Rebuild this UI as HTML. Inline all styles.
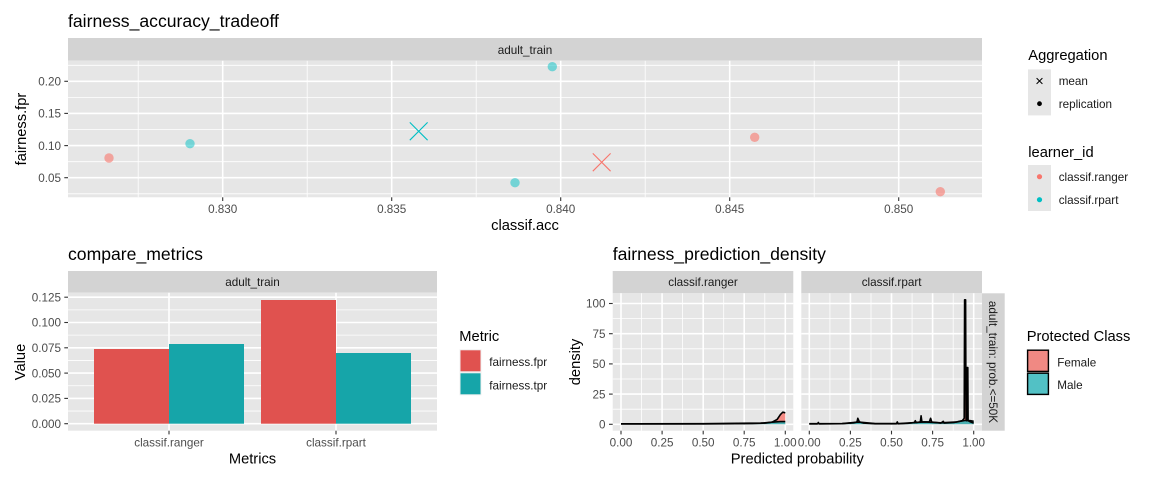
<!DOCTYPE html>
<html><head><meta charset="utf-8"><style>
html,body{margin:0;padding:0;background:#fff;}
svg{display:block;font-family:"Liberation Sans",Arial,sans-serif;}
</style></head><body>
<svg width="1152" height="480" viewBox="0 0 1152 480" xmlns="http://www.w3.org/2000/svg">
<rect width="1152" height="480" fill="#fff"/>

<!-- ============ TOP: fairness_accuracy_tradeoff ============ -->
<text x="68" y="27" font-size="17.6" fill="#000">fairness_accuracy_tradeoff</text>
<rect x="68" y="38" width="914" height="22.7" fill="#D3D3D3"/>
<text x="525" y="54.2" font-size="11.7" fill="#1A1A1A" text-anchor="middle">adult_train</text>
<rect x="68" y="60.7" width="914" height="136.6" fill="#E6E6E6"/>
<g stroke="#fff" stroke-width="0.8">
<line x1="68" x2="982" y1="65.3" y2="65.3"/><line x1="68" x2="982" y1="97.4" y2="97.4"/><line x1="68" x2="982" y1="129.5" y2="129.5"/><line x1="68" x2="982" y1="161.7" y2="161.7"/><line x1="68" x2="982" y1="193.8" y2="193.8"/>
<line y1="60.7" y2="197.3" x1="138.2" x2="138.2"/><line y1="60.7" y2="197.3" x1="307.2" x2="307.2"/><line y1="60.7" y2="197.3" x1="476.2" x2="476.2"/><line y1="60.7" y2="197.3" x1="645.2" x2="645.2"/><line y1="60.7" y2="197.3" x1="814.2" x2="814.2"/>
</g>
<g stroke="#fff" stroke-width="1.6">
<line x1="68" x2="982" y1="81.3" y2="81.3"/><line x1="68" x2="982" y1="113.4" y2="113.4"/><line x1="68" x2="982" y1="145.6" y2="145.6"/><line x1="68" x2="982" y1="177.7" y2="177.7"/>
<line y1="60.7" y2="197.3" x1="222.7" x2="222.7"/><line y1="60.7" y2="197.3" x1="391.7" x2="391.7"/><line y1="60.7" y2="197.3" x1="560.7" x2="560.7"/><line y1="60.7" y2="197.3" x1="729.7" x2="729.7"/><line y1="60.7" y2="197.3" x1="898.7" x2="898.7"/>
</g>
<!-- points -->
<g stroke="none">
<circle cx="109" cy="158" r="4.7" fill="#F8766D" fill-opacity="0.6"/>
<circle cx="754.7" cy="137.3" r="4.7" fill="#F8766D" fill-opacity="0.6"/>
<circle cx="940.3" cy="191.7" r="4.7" fill="#F8766D" fill-opacity="0.6"/>
<circle cx="190" cy="143.7" r="4.7" fill="#00BFC4" fill-opacity="0.5"/>
<circle cx="515" cy="182.7" r="4.7" fill="#00BFC4" fill-opacity="0.5"/>
<circle cx="552.3" cy="66.7" r="4.7" fill="#00BFC4" fill-opacity="0.5"/>
</g>
<g stroke="#00BFC4" stroke-width="1.1"><line x1="409.8" y1="122.4" x2="427.6" y2="140.2"/><line x1="409.8" y1="140.2" x2="427.6" y2="122.4"/></g>
<g stroke="#F8766D" stroke-width="1.1"><line x1="592.8" y1="153.4" x2="610.6" y2="171.2"/><line x1="592.8" y1="171.2" x2="610.6" y2="153.4"/></g>
<!-- axes -->
<g stroke="#333" stroke-width="1.1">
<line x1="64.3" x2="68" y1="81.3" y2="81.3"/><line x1="64.3" x2="68" y1="113.4" y2="113.4"/><line x1="64.3" x2="68" y1="145.6" y2="145.6"/><line x1="64.3" x2="68" y1="177.7" y2="177.7"/>
<line y1="197.3" y2="201" x1="222.7" x2="222.7"/><line y1="197.3" y2="201" x1="391.7" x2="391.7"/><line y1="197.3" y2="201" x1="560.7" x2="560.7"/><line y1="197.3" y2="201" x1="729.7" x2="729.7"/><line y1="197.3" y2="201" x1="898.7" x2="898.7"/>
</g>
<g font-size="11.7" fill="#4D4D4D" text-anchor="end">
<text x="61" y="85.5">0.20</text><text x="61" y="117.6">0.15</text><text x="61" y="149.8">0.10</text><text x="61" y="181.9">0.05</text>
</g>
<g font-size="11.7" fill="#4D4D4D" text-anchor="middle">
<text x="222.7" y="213.2">0.830</text><text x="391.7" y="213.2">0.835</text><text x="560.7" y="213.2">0.840</text><text x="729.7" y="213.2">0.845</text><text x="898.7" y="213.2">0.850</text>
</g>
<text x="525" y="230.1" font-size="14.7" text-anchor="middle" fill="#000">classif.acc</text>
<text transform="translate(25.8,129) rotate(-90)" font-size="14.7" text-anchor="middle" fill="#000">fairness.fpr</text>
<!-- legends -->
<text x="1028.3" y="60.1" font-size="14.7" fill="#000">Aggregation</text>
<rect x="1028" y="69.4" width="23" height="46" fill="#E6E6E6"/>
<g stroke="#000" stroke-width="1"><line x1="1036.6" y1="78.1" x2="1042.4" y2="83.9"/><line x1="1036.6" y1="83.9" x2="1042.4" y2="78.1"/></g>
<circle cx="1039.5" cy="103.7" r="2.4" fill="#000"/>
<text x="1058.7" y="85.2" font-size="11.7" fill="#1A1A1A">mean</text>
<text x="1058.7" y="107.9" font-size="11.7" fill="#1A1A1A">replication</text>
<text x="1028.3" y="157.1" font-size="14.7" fill="#000">learner_id</text>
<rect x="1028" y="165" width="23" height="46" fill="#E6E6E6"/>
<circle cx="1039.5" cy="176.7" r="2.6" fill="#F8766D"/>
<circle cx="1039.5" cy="199.7" r="2.6" fill="#00BFC4"/>
<text x="1058.7" y="180.9" font-size="11.7" fill="#1A1A1A">classif.ranger</text>
<text x="1058.7" y="203.9" font-size="11.7" fill="#1A1A1A">classif.rpart</text>

<!-- ============ BOTTOM LEFT: compare_metrics ============ -->
<text x="68" y="260" font-size="17.6" fill="#000">compare_metrics</text>
<rect x="68" y="271" width="369" height="21.7" fill="#D3D3D3"/>
<text x="252.5" y="286.2" font-size="11.7" fill="#1A1A1A" text-anchor="middle">adult_train</text>
<rect x="68" y="292.7" width="369" height="138" fill="#E6E6E6"/>
<g stroke="#fff" stroke-width="0.8">
<line x1="68" x2="437" y1="411.05" y2="411.05"/><line x1="68" x2="437" y1="385.75" y2="385.75"/><line x1="68" x2="437" y1="360.45" y2="360.45"/><line x1="68" x2="437" y1="335.15" y2="335.15"/><line x1="68" x2="437" y1="309.85" y2="309.85"/>
</g>
<g stroke="#fff" stroke-width="1.6">
<line x1="68" x2="437" y1="423.7" y2="423.7"/><line x1="68" x2="437" y1="398.4" y2="398.4"/><line x1="68" x2="437" y1="373.1" y2="373.1"/><line x1="68" x2="437" y1="347.8" y2="347.8"/><line x1="68" x2="437" y1="322.5" y2="322.5"/><line x1="68" x2="437" y1="297.2" y2="297.2"/>
<line y1="292.7" y2="430.7" x1="169" x2="169"/><line y1="292.7" y2="430.7" x1="336" x2="336"/>
</g>
<rect x="94" y="349" width="75" height="74.7" fill="#E0524F"/>
<rect x="169" y="344" width="75" height="79.7" fill="#16A5A9"/>
<rect x="261" y="300" width="75" height="123.7" fill="#E0524F"/>
<rect x="336" y="353" width="75" height="70.7" fill="#16A5A9"/>
<g stroke="#333" stroke-width="1.1">
<line x1="64.3" x2="68" y1="423.7" y2="423.7"/><line x1="64.3" x2="68" y1="398.4" y2="398.4"/><line x1="64.3" x2="68" y1="373.1" y2="373.1"/><line x1="64.3" x2="68" y1="347.8" y2="347.8"/><line x1="64.3" x2="68" y1="322.5" y2="322.5"/><line x1="64.3" x2="68" y1="297.2" y2="297.2"/>
<line y1="430.7" y2="434.4" x1="169" x2="169"/><line y1="430.7" y2="434.4" x1="336" x2="336"/>
</g>
<g font-size="11.7" fill="#4D4D4D" text-anchor="end">
<text x="61" y="301.4">0.125</text><text x="61" y="326.7">0.100</text><text x="61" y="352">0.075</text><text x="61" y="377.3">0.050</text><text x="61" y="402.6">0.025</text><text x="61" y="427.9">0.000</text>
</g>
<g font-size="11.7" fill="#4D4D4D" text-anchor="middle">
<text x="169" y="446.4">classif.ranger</text><text x="336" y="446.4">classif.rpart</text>
</g>
<text x="252.5" y="463.4" font-size="14.7" text-anchor="middle" fill="#000">Metrics</text>
<text transform="translate(25.1,362) rotate(-90)" font-size="14.7" text-anchor="middle" fill="#000">Value</text>
<text x="459.3" y="341.1" font-size="14.7" fill="#000">Metric</text>
<rect x="459.5" y="349.3" width="22" height="46" fill="#F0F0F0"/>
<rect x="460.5" y="350.3" width="20" height="21" fill="#E0524F"/>
<rect x="460.5" y="373.3" width="20" height="21" fill="#16A5A9"/>
<text x="489.3" y="366.2" font-size="11.7" fill="#1A1A1A">fairness.fpr</text>
<text x="489.3" y="389.5" font-size="11.7" fill="#1A1A1A">fairness.tpr</text>

<!-- ============ BOTTOM RIGHT: fairness_prediction_density ============ -->
<text x="612.7" y="260" font-size="17.6" fill="#000">fairness_prediction_density</text>
<rect x="612.7" y="271" width="180.6" height="22.3" fill="#D3D3D3"/>
<rect x="801.3" y="271" width="180.7" height="22.3" fill="#D3D3D3"/>
<text x="703" y="286.2" font-size="11.7" fill="#1A1A1A" text-anchor="middle">classif.ranger</text>
<text x="891.6" y="286.2" font-size="11.7" fill="#1A1A1A" text-anchor="middle">classif.rpart</text>
<rect x="982" y="293.3" width="22.7" height="137.4" fill="#D3D3D3"/>
<text transform="translate(989.2,362) rotate(90)" font-size="11.7" fill="#1A1A1A" text-anchor="middle">adult_train: prob.&lt;=50K</text>
<rect x="612.7" y="293.3" width="180.6" height="137.4" fill="#E6E6E6"/>
<rect x="801.3" y="293.3" width="180.7" height="137.4" fill="#E6E6E6"/>
<g stroke="#fff" stroke-width="0.8">
<line x1="612.7" x2="793.3" y1="409.2" y2="409.2"/><line x1="612.7" x2="793.3" y1="379" y2="379"/><line x1="612.7" x2="793.3" y1="348.8" y2="348.8"/><line x1="612.7" x2="793.3" y1="318.6" y2="318.6"/>
<line x1="801.3" x2="982" y1="409.2" y2="409.2"/><line x1="801.3" x2="982" y1="379" y2="379"/><line x1="801.3" x2="982" y1="348.8" y2="348.8"/><line x1="801.3" x2="982" y1="318.6" y2="318.6"/>
<line y1="293.3" y2="430.7" x1="641.5" x2="641.5"/><line y1="293.3" y2="430.7" x1="682.6" x2="682.6"/><line y1="293.3" y2="430.7" x1="723.7" x2="723.7"/><line y1="293.3" y2="430.7" x1="764.8" x2="764.8"/>
<line y1="293.3" y2="430.7" x1="829.9" x2="829.9"/><line y1="293.3" y2="430.7" x1="871" x2="871"/><line y1="293.3" y2="430.7" x1="912.1" x2="912.1"/><line y1="293.3" y2="430.7" x1="953.2" x2="953.2"/>
</g>
<g stroke="#fff" stroke-width="1.6">
<line x1="612.7" x2="793.3" y1="424.3" y2="424.3"/><line x1="612.7" x2="793.3" y1="394.1" y2="394.1"/><line x1="612.7" x2="793.3" y1="363.9" y2="363.9"/><line x1="612.7" x2="793.3" y1="333.7" y2="333.7"/><line x1="612.7" x2="793.3" y1="303.5" y2="303.5"/>
<line x1="801.3" x2="982" y1="424.3" y2="424.3"/><line x1="801.3" x2="982" y1="394.1" y2="394.1"/><line x1="801.3" x2="982" y1="363.9" y2="363.9"/><line x1="801.3" x2="982" y1="333.7" y2="333.7"/><line x1="801.3" x2="982" y1="303.5" y2="303.5"/>
<line y1="293.3" y2="430.7" x1="621" x2="621"/><line y1="293.3" y2="430.7" x1="662.1" x2="662.1"/><line y1="293.3" y2="430.7" x1="703.2" x2="703.2"/><line y1="293.3" y2="430.7" x1="744.2" x2="744.2"/><line y1="293.3" y2="430.7" x1="785.3" x2="785.3"/>
<line y1="293.3" y2="430.7" x1="809.3" x2="809.3"/><line y1="293.3" y2="430.7" x1="850.4" x2="850.4"/><line y1="293.3" y2="430.7" x1="891.5" x2="891.5"/><line y1="293.3" y2="430.7" x1="932.6" x2="932.6"/><line y1="293.3" y2="430.7" x1="973.7" x2="973.7"/>
</g>
<!-- ranger densities -->
<path d="M621,424.3 L621,423.9 L703.2,423.9 L752.4,423.6 L765.6,423.1 L772.2,422.1 L777.1,419.5 L780.4,414.6 L782.8,412.2 L785.3,412.8 L785.3,424.3 Z" fill="#F8766D" fill-opacity="0.8"/>
<path d="M621,424.3 L621,423.8 L703.2,423.7 L760.7,423.1 L773.8,422.1 L780.4,421.6 L785.3,421.6 L785.3,424.3 Z" fill="#00BFC4" fill-opacity="0.7"/>
<g fill="none" stroke="#000" stroke-width="1.6" stroke-linejoin="round">
<path d="M621,423.9 L703.2,423.9 L752.4,423.6 L765.6,423.1 L772.2,422.1 L777.1,419.5 L780.4,414.6 L782.8,412.2 L785.3,412.8"/>
<path d="M621,423.8 L703.2,423.7 L760.7,423.1 L773.8,422.1 L780.4,421.6 L785.3,421.6"/>
</g>
<!-- rpart densities -->
<path d="M809.3,424.3 L809.3,423.9 L817.5,423.9 L818.3,422.5 L819.2,423.9 L842.2,423.7 L853.7,422.8 L857,421.9 L857.8,418.3 L859.4,421.9 L863.6,423.1 L875.1,423.8 L896.4,423.8 L897.3,421.9 L898.1,423.8 L908,423.3 L914.5,422.5 L915.3,420.7 L916.2,422.5 L920.3,421.9 L921.1,415.8 L921.9,421.9 L929.3,421.9 L930.6,418.3 L931.8,422.1 L940.8,423.1 L943.3,421.3 L944.1,423.1 L954,422.5 L962.2,420.7 L964.2,418.3 L964.6,299.8 L965.6,299.8 L966,418.3 L966.5,420.7 L966.8,367.5 L967.8,367.5 L968.1,420.7 L970.4,421.9 L973.7,423.1 L973.7,424.3 Z" fill="#F8766D" fill-opacity="0.8"/>
<path d="M809.3,424.3 L809.3,423.7 L842.2,423.6 L858.6,422.1 L875.1,423.6 L899.7,423.6 L924.4,421.9 L940.8,422.8 L957.3,421.9 L965.5,420.4 L970.4,420.7 L973.7,421.3 L973.7,424.3 Z" fill="#00BFC4" fill-opacity="0.7"/>
<g fill="none" stroke="#000" stroke-width="1.6" stroke-linejoin="round">
<path d="M809.3,423.9 L817.5,423.9 L818.3,422.5 L819.2,423.9 L842.2,423.7 L853.7,422.8 L857,421.9 L857.8,418.3 L859.4,421.9 L863.6,423.1 L875.1,423.8 L896.4,423.8 L897.3,421.9 L898.1,423.8 L908,423.3 L914.5,422.5 L915.3,420.7 L916.2,422.5 L920.3,421.9 L921.1,415.8 L921.9,421.9 L929.3,421.9 L930.6,418.3 L931.8,422.1 L940.8,423.1 L943.3,421.3 L944.1,423.1 L954,422.5 L962.2,420.7 L964.2,418.3 L964.6,299.8 L965.6,299.8 L966,418.3 L966.5,420.7 L966.8,367.5 L967.8,367.5 L968.1,420.7 L970.4,421.9 L973.7,423.1"/>
<path d="M809.3,423.7 L842.2,423.6 L858.6,422.1 L875.1,423.6 L899.7,423.6 L924.4,421.9 L940.8,422.8 L957.3,421.9 L965.5,420.4 L970.4,420.7 L973.7,421.3"/>
</g>
<!-- density axes -->
<g stroke="#333" stroke-width="1.1">
<line x1="609" x2="612.7" y1="424.3" y2="424.3"/><line x1="609" x2="612.7" y1="394.1" y2="394.1"/><line x1="609" x2="612.7" y1="363.9" y2="363.9"/><line x1="609" x2="612.7" y1="333.7" y2="333.7"/><line x1="609" x2="612.7" y1="303.5" y2="303.5"/>
<line y1="430.7" y2="434.4" x1="621" x2="621"/><line y1="430.7" y2="434.4" x1="662.1" x2="662.1"/><line y1="430.7" y2="434.4" x1="703.2" x2="703.2"/><line y1="430.7" y2="434.4" x1="744.2" x2="744.2"/><line y1="430.7" y2="434.4" x1="785.3" x2="785.3"/>
<line y1="430.7" y2="434.4" x1="809.3" x2="809.3"/><line y1="430.7" y2="434.4" x1="850.4" x2="850.4"/><line y1="430.7" y2="434.4" x1="891.5" x2="891.5"/><line y1="430.7" y2="434.4" x1="932.6" x2="932.6"/><line y1="430.7" y2="434.4" x1="973.7" x2="973.7"/>
</g>
<g font-size="11.7" fill="#4D4D4D" text-anchor="end">
<text x="605.5" y="307.7">100</text><text x="605.5" y="337.9">75</text><text x="605.5" y="368.1">50</text><text x="605.5" y="398.3">25</text><text x="605.5" y="428.5">0</text>
</g>
<g font-size="11.7" fill="#4D4D4D" text-anchor="middle">
<text x="621" y="446.4">0.00</text><text x="662.1" y="446.4">0.25</text><text x="703.2" y="446.4">0.50</text><text x="744.2" y="446.4">0.75</text><text x="785.3" y="446.4">1.00</text>
<text x="809.3" y="446.4">0.00</text><text x="850.4" y="446.4">0.25</text><text x="891.5" y="446.4">0.50</text><text x="932.6" y="446.4">0.75</text><text x="973.7" y="446.4">1.00</text>
</g>
<text x="797.3" y="463.4" font-size="14.7" text-anchor="middle" fill="#000">Predicted probability</text>
<text transform="translate(580.1,362) rotate(-90)" font-size="14.7" text-anchor="middle" fill="#000">density</text>
<text x="1026.7" y="340.8" font-size="14.7" fill="#000">Protected Class</text>
<rect x="1026.7" y="349.3" width="22.6" height="46" fill="#E6E6E6"/>
<rect x="1027.6" y="350.2" width="20.8" height="21.2" fill="#F08983" stroke="#000" stroke-width="1.4"/>
<rect x="1027.6" y="373.2" width="20.8" height="21.2" fill="#52C1C5" stroke="#000" stroke-width="1.4"/>
<text x="1057.3" y="366.5" font-size="11.7" fill="#1A1A1A">Female</text>
<text x="1057.3" y="388.9" font-size="11.7" fill="#1A1A1A">Male</text>
</svg>
</body></html>
